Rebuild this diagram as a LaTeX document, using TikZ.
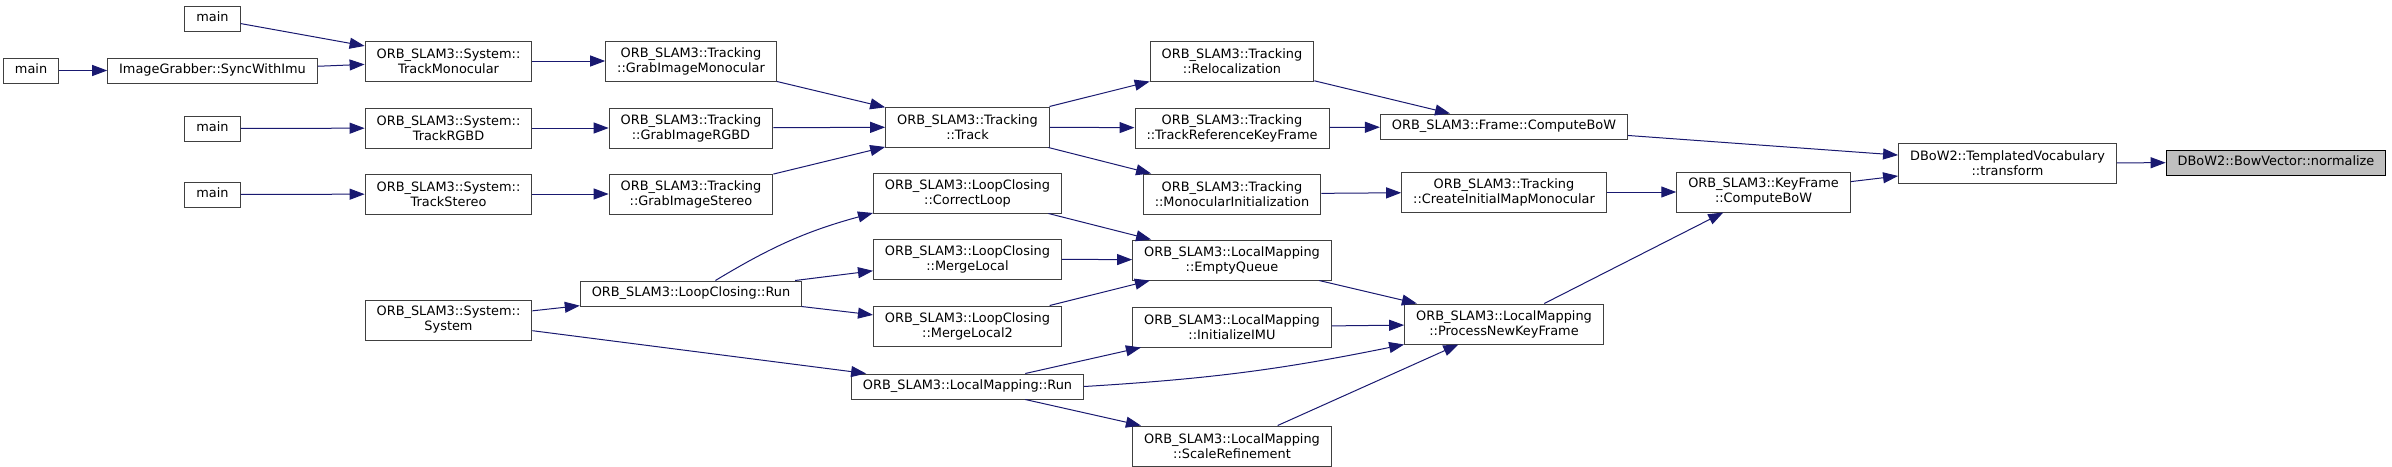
\documentclass[tikz,border=0pt]{standalone}
\usepackage{fontspec}
\setmainfont{DejaVu Sans}
\usepackage{tikz}
\usetikzlibrary{arrows.meta, positioning}

\definecolor{midnightblue}{HTML}{191970}
\tikzset{
  fn/.style={draw=black!75, line width=1pt, fill=white, align=center,
    inner xsep=11.5pt, inner ysep=0pt, minimum height=25pt,
    text height=9.6pt, text depth=3pt, font=\fontsize{12.9}{15}\selectfont},
  fntwo/.style={draw=black!75, line width=1pt, fill=white, align=center,
    inner xsep=11.5pt, inner ysep=0pt, minimum height=40pt,
    font=\fontsize{12.9}{15}\selectfont},
  fnroot/.style={fn, draw=black, fill=black!25},
  call/.style={draw=midnightblue, line width=1pt, -{Triangle[length=15pt,width=11pt]}}
}

\begin{document}
\begin{tikzpicture}[x=1pt, y=-1pt]
    \useasboundingbox (0,0) rectangle (2392,466);

    \node[fn] (main1) at (212.5,18.5) {main};
    \node[fn] (syncimu) [below=26pt of main1] {ImageGrabber::SyncWithImu};
    \node[fn] (main2) [left=48pt of syncimu] {main};
    \node[fn] (main3) [below=32pt of syncimu] {main};
    \node[fn] (main4) [below=40pt of main3] {main};

    \node[fntwo] (trackmono) at (448.5,61) {ORB\_SLAM3::System::\\TrackMonocular};
    \node[fntwo] (trackrgbd) [below=26pt of trackmono] {ORB\_SLAM3::System::\\TrackRGBD};
    \node[fntwo] (trackstereo) [below=25pt of trackrgbd] {ORB\_SLAM3::System::\\TrackStereo};
    \node[fntwo] (system) [below=85pt of trackstereo] {ORB\_SLAM3::System::\\System};

    \node[fntwo] (grabmono) at (691,61) {ORB\_SLAM3::Tracking\\::GrabImageMonocular};
    \node[fntwo] (grabrgbd) [below=26pt of grabmono] {ORB\_SLAM3::Tracking\\::GrabImageRGBD};
    \node[fntwo] (grabstereo) [below=25pt of grabrgbd] {ORB\_SLAM3::Tracking\\::GrabImageStereo};
    \node[fn] (lcrun) [below=66pt of grabstereo] {ORB\_SLAM3::LoopClosing::Run};

    \node[fntwo] (track) at (967.5,127) {ORB\_SLAM3::Tracking\\::Track};
    \node[fntwo] (correctloop) [below=25pt of track] {ORB\_SLAM3::LoopClosing\\::CorrectLoop};
    \node[fntwo] (mergelocal) [below=25pt of correctloop] {ORB\_SLAM3::LoopClosing\\::MergeLocal};
    \node[fntwo] (mergelocal2) [below=26pt of mergelocal] {ORB\_SLAM3::LoopClosing\\::MergeLocal2};
    \node[fn] (lmrun) [below=27pt of mergelocal2] {ORB\_SLAM3::LocalMapping::Run};

    \node[fntwo] (reloc) at (1232,61) {ORB\_SLAM3::Tracking\\::Relocalization};
    \node[fntwo] (trackref) [below=26pt of reloc] {ORB\_SLAM3::Tracking\\::TrackReferenceKeyFrame};
    \node[fntwo] (monoinit) [below=25pt of trackref] {ORB\_SLAM3::Tracking\\::MonocularInitialization};
    \node[fntwo] (emptyqueue) [below=25pt of monoinit] {ORB\_SLAM3::LocalMapping\\::EmptyQueue};
    \node[fntwo] (initimu) [below=26pt of emptyqueue] {ORB\_SLAM3::LocalMapping\\::InitializeIMU};
    \node[fntwo] (scaleref) [below=78pt of initimu] {ORB\_SLAM3::LocalMapping\\::ScaleRefinement};

    \node[fn] (framebow) at (1504,126.5) {ORB\_SLAM3::Frame::ComputeBoW};
    \node[fntwo] (createinit) at (1504,192) {ORB\_SLAM3::Tracking\\::CreateInitialMapMonocular};
    \node[fntwo] (pnkf) [below=91pt of createinit] {ORB\_SLAM3::LocalMapping\\::ProcessNewKeyFrame};

    \node[fntwo] (kfbow) at (1763.5,192) {ORB\_SLAM3::KeyFrame\\::ComputeBoW};
    \node[fntwo] (transform) at (2007.5,163) {DBoW2::TemplatedVocabulary\\::transform};
    \node[fnroot] (normalize) at (2276,162.5) {DBoW2::BowVector::normalize};

    \draw[call] (main1) -- (trackmono);
    \draw[call] (main2) -- (syncimu);
    \draw[call] (syncimu) -- (trackmono);
    \draw[call] (main3) -- (trackrgbd);
    \draw[call] (main4) -- (trackstereo);

    \draw[call] (trackmono) -- (grabmono);
    \draw[call] (trackrgbd) -- (grabrgbd);
    \draw[call] (trackstereo) -- (grabstereo);
    \draw[call] (system) -- (lcrun);
    \draw[call] (system) -- (lmrun);

    \draw[call] (grabmono) -- (track);
    \draw[call] (grabrgbd) -- (track);
    \draw[call] (grabstereo) -- (track);
    \draw[call] (lcrun) to[bend left=8] (correctloop);
    \draw[call] (lcrun) -- (mergelocal);
    \draw[call] (lcrun) -- (mergelocal2);

    \draw[call] (track) -- (reloc);
    \draw[call] (track) -- (trackref);
    \draw[call] (track) -- (monoinit);
    \draw[call] (correctloop) -- (emptyqueue);
    \draw[call] (mergelocal) -- (emptyqueue);
    \draw[call] (mergelocal2) -- (emptyqueue);
    \draw[call] (lmrun) -- (initimu);
    \draw[call] (lmrun) -- (scaleref);
    \draw[call] (lmrun.east) to[bend right=4] (pnkf.south west);

    \draw[call] (reloc) -- (framebow);
    \draw[call] (trackref) -- (framebow);
    \draw[call] (monoinit) -- (createinit);
    \draw[call] (emptyqueue) -- (pnkf);
    \draw[call] (initimu) -- (pnkf);
    \draw[call] (scaleref) -- (pnkf);

    \draw[call] (createinit) -- (kfbow);
    \draw[call] (pnkf) -- (kfbow);
    \draw[call] (framebow) -- (transform);
    \draw[call] (kfbow) -- (transform);
    \draw[call] (transform) -- (normalize);
\end{tikzpicture}
\end{document}
